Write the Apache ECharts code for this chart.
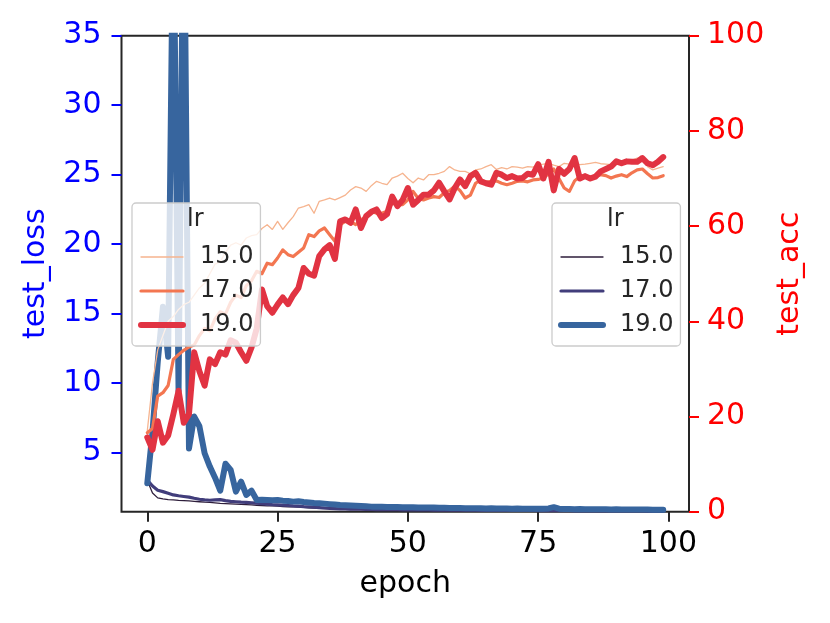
<!DOCTYPE html>
<html>
<head>
<meta charset="utf-8">
<script src="https://cdn.jsdelivr.net/npm/echarts@6/dist/echarts.min.js"></script>
<style>
html, body { margin: 0; padding: 0; background: #fff; }
#main { width: 830px; height: 623px; }
</style>
</head>
<body>
<div id="main"></div>
<script>
// epochs 0..99
var epochs = [];
for (var i = 0; i < 100; i++) epochs.push(i);

var lrNames = ['15.0', '17.0', '19.0'];
var xTicks = [0, 25, 50, 75, 100];
var lossTicks = [5, 10, 15, 20, 25, 30, 35];

// test_loss per lr
var loss15 = [3.0, 2.1, 1.75, 1.68, 1.63, 1.6, 1.57, 1.55, 1.53, 1.5,
    1.47, 1.44, 1.42, 1.39, 1.36, 1.34, 1.32, 1.3, 1.28, 1.26,
    1.24, 1.22, 1.2, 1.18, 1.17, 1.15, 1.13, 1.11, 1.1, 1.08,
    1.06, 1.04, 1.02, 1.0, 0.98, 0.97, 0.95, 0.93, 0.92, 0.91,
    0.9, 0.9, 0.89, 0.88, 0.88, 0.87, 0.87, 0.86, 0.86, 0.85,
    0.85, 0.85, 0.84, 0.84, 0.84, 0.83, 0.83, 0.83, 0.83, 0.82,
    0.82, 0.82, 0.82, 0.81, 0.81, 0.81, 0.81, 0.8, 0.8, 0.8,
    0.8, 0.8, 0.79, 0.79, 0.79, 0.79, 0.79, 0.79, 0.79, 0.78,
    0.78, 0.78, 0.78, 0.78, 0.78, 0.78, 0.78, 0.77, 0.77, 0.77,
    0.77, 0.77, 0.77, 0.77, 0.77, 0.77, 0.76, 0.76, 0.76, 0.76];
var loss17 = [3.04, 2.6, 2.3, 2.2, 2.08, 1.96, 1.9, 1.85, 1.8, 1.72,
    1.65, 1.6, 1.58, 1.6, 1.62, 1.55, 1.5, 1.47, 1.44, 1.42,
    1.4, 1.37, 1.34, 1.3, 1.27, 1.25, 1.23, 1.2, 1.17, 1.15,
    1.12, 1.1, 1.08, 1.05, 1.02, 1.0, 0.98, 0.96, 0.95, 0.94,
    0.93, 0.93, 0.92, 0.92, 0.91, 0.91, 0.9, 0.9, 0.9, 0.89,
    0.89, 0.89, 0.88, 0.88, 0.88, 0.87, 0.87, 0.87, 0.87, 0.86,
    0.86, 0.86, 0.86, 0.86, 0.85, 0.85, 0.85, 0.85, 0.85, 0.84,
    0.84, 0.84, 0.84, 0.84, 0.84, 0.83, 0.83, 0.83, 0.83, 0.83,
    0.83, 0.83, 0.82, 0.82, 0.82, 0.82, 0.82, 0.82, 0.82, 0.81,
    0.81, 0.81, 0.81, 0.81, 0.81, 0.81, 0.8, 0.8, 0.8, 0.8];
var loss19 = [2.8, 6.5, 11.5, 15.5, 11.9, 45, 9.4, 48, 5.3, 7.6,
    6.9, 4.96, 4.0, 3.2, 2.27, 4.2, 3.76, 2.2, 2.92, 1.96,
    2.27, 1.6, 1.62, 1.6, 1.58, 1.6, 1.55, 1.52, 1.48, 1.5,
    1.45, 1.42, 1.38, 1.36, 1.33, 1.3, 1.27, 1.24, 1.22, 1.2,
    1.18, 1.16, 1.14, 1.12, 1.12, 1.11, 1.1, 1.1, 1.09, 1.08,
    1.08, 1.07, 1.06, 1.06, 1.05, 1.05, 1.04, 1.04, 1.03, 1.02,
    1.02, 1.01, 1.0, 1.01, 1.0, 0.99, 1.0, 0.99, 0.98, 0.98,
    0.97, 0.98, 0.97, 0.96, 0.96, 0.97, 0.96, 0.99, 1.08, 0.97,
    0.95, 0.95, 0.94, 0.95, 0.94, 0.93, 0.93, 0.94, 0.93, 0.92,
    0.93, 0.92, 0.92, 0.91, 0.92, 0.91, 0.91, 0.9, 0.9, 0.89];

// test_acc per lr
var acc15 = [17.0, 27.0, 34.0, 37.0, 40.0, 41.0, 42.5, 43.5, 44.0, 45.5,
    47.0, 48.0, 50.0, 52.0, 52.5, 54.5, 56.0, 56.5, 56.0, 57.5,
    58.0, 58.2, 59.5, 60.3, 59.3, 61.0, 59.3, 60.7, 62.0, 63.8,
    64.1, 64.5, 62.7, 65.2, 65.5, 65.9, 65.5, 66.0, 66.5, 67.6,
    68.3, 68.0, 67.3, 68.5, 69.4, 69.0, 68.7, 70.1, 70.5, 71.1,
    70.0, 69.1, 70.1, 69.7, 70.8, 70.8, 71.1, 71.5, 72.5, 71.8,
    71.5, 71.5, 71.0, 71.8, 72.0, 72.5, 72.9, 71.9, 72.3, 72.0,
    72.5, 72.4, 72.2, 72.5, 72.4, 72.9, 73.0, 73.2, 72.8, 72.5,
    73.2, 73.0, 73.2, 72.9, 73.0, 73.2, 73.4, 73.1, 73.0, 72.9,
    73.2, 73.3, 73.6, 73.8, 74.3, 74.2, 72.5, 71.8, 72.2, 72.5];
var acc17 = [16.6, 17.5, 24.3, 25.0, 26.5, 32.0, 33.0, 33.9, 34.6, 35.0,
    37.0, 38.5, 38.0, 40.5, 42.0, 41.5, 44.0, 45.5, 45.0, 47.5,
    48.5, 50.5, 50.0, 52.2, 51.9, 53.3, 55.0, 54.0, 53.6, 54.5,
    55.4, 58.2, 57.8, 59.0, 59.6, 58.2, 56.8, 60.3, 61.0, 61.0,
    60.3, 61.3, 62.0, 63.1, 62.7, 62.7, 63.1, 64.8, 64.5, 64.5,
    65.5, 67.3, 65.8, 65.5, 65.9, 66.2, 66.0, 67.0, 67.5, 68.4,
    67.5, 65.9, 66.5, 69.0, 69.7, 69.2, 69.4, 69.5, 69.0, 68.7,
    69.0, 69.4, 69.5, 69.3, 69.7, 69.8, 70.1, 71.0, 72.0, 70.0,
    68.0, 67.3, 69.5, 70.4, 70.6, 70.1, 70.4, 70.8, 70.6, 70.1,
    70.5, 70.8, 70.4, 71.2, 71.8, 72.0, 71.0, 70.1, 70.2, 70.6];
var acc19 = [15.6, 13.0, 19.0, 14.5, 16.0, 20.5, 25.4, 18.7, 20.5, 33.5,
    29.5, 26.5, 32.0, 31.0, 33.5, 33.0, 36.0, 35.5, 33.5, 31.7,
    34.5, 38.5, 46.7, 43.2, 41.8, 43.5, 45.0, 43.6, 45.5, 47.0,
    51.2, 50.0, 49.6, 53.7, 55.1, 56.0, 53.1, 61.0, 61.4, 60.7,
    63.5, 59.6, 62.1, 63.0, 63.5, 61.7, 62.5, 66.2, 64.2, 65.5,
    68.0, 64.5, 65.5, 66.6, 66.6, 67.5, 69.1, 67.3, 65.6, 68.0,
    69.8, 68.4, 70.5, 71.2, 69.4, 69.0, 68.7, 71.2, 70.8, 70.1,
    70.5, 70.0, 70.1, 71.0, 70.8, 73.0, 70.0, 73.5, 67.5, 72.0,
    71.0, 72.0, 74.3, 70.0, 70.5, 70.0, 70.4, 71.5, 72.0, 72.5,
    73.6, 73.2, 73.6, 73.5, 73.5, 74.3, 73.2, 72.8, 73.5, 74.5];

var lossColors = ['#2e1e3b', '#413d7b', '#37659e'];
var accColors = ['#f6b48f', '#f37651', '#e13342'];
var widths = [1.3, 3.2, 6];

function pairs(vals) {
    var out = [];
    for (var i = 0; i < vals.length; i++) out.push([epochs[i], vals[i]]);
    return out;
}

var FONT = 'DejaVu Sans';
var lossData = [loss15, loss17, loss19];
var accData = [acc15, acc17, acc19];
var series = [];
for (var k = 0; k < 3; k++) {
    series.push({
        name: 'loss ' + lrNames[k], type: 'line', yAxisIndex: 0,
        data: pairs(lossData[k]), symbol: 'none', animation: false,
        lineStyle: { color: lossColors[k], width: widths[k], join: 'round', cap: 'round' },
        itemStyle: { color: lossColors[k] }
    });
}
for (var k = 0; k < 3; k++) {
    series.push({
        name: 'acc ' + lrNames[k], type: 'line', yAxisIndex: 1,
        data: pairs(accData[k]), symbol: 'none', animation: false,
        lineStyle: { color: accColors[k], width: widths[k], join: 'round', cap: 'round' },
        itemStyle: { color: accColors[k] }
    });
}

function legendAt(left, prefix, colors) {
    var items = [];
    for (var k = 0; k < 3; k++) {
        items.push({
            name: prefix + lrNames[k],
            lineStyle: { color: colors[k], width: widths[k], cap: 'round' }
        });
    }
    return {
        orient: 'vertical', left: left, top: 203,
        data: items,
        formatter: function (n) { return n.split(' ')[1]; },
        itemWidth: 42, itemHeight: 14, itemGap: 10,
        padding: [42, 7, 9, 6],
        backgroundColor: 'rgba(255,255,255,0.8)',
        borderColor: '#cccccc', borderWidth: 1.3, borderRadius: 4,
        itemStyle: { opacity: 0 },
        textStyle: { fontFamily: FONT, fontSize: 24, lineHeight: 24, color: '#262626', padding: [0, 0, 0, 12] },
        selectedMode: false
    };
}

var chart = echarts.init(document.getElementById('main'));
chart.setOption({
    backgroundColor: '#ffffff',
    animation: false,
    grid: { left: 121.5, right: 141, top: 35.7, bottom: 111.3, show: true, borderColor: '#262626', borderWidth: 2, backgroundColor: '#ffffff' },
    xAxis: {
        type: 'value', min: -4.95, max: 103.95,
        name: 'epoch', nameLocation: 'middle', nameGap: 58,
        nameTextStyle: { fontFamily: FONT, fontSize: 30, color: '#000' },
        axisLine: { show: false, onZero: false },
        splitLine: { show: false },
        axisTick: { show: true, length: 10, customValues: xTicks, lineStyle: { color: '#262626', width: 2 } },
        axisLabel: { customValues: xTicks, fontFamily: FONT, fontSize: 30, color: '#000', margin: 18 }
    },
    yAxis: [{
        type: 'value', min: 0.755, max: 35, position: 'left',
        name: 'test_loss', nameLocation: 'middle', nameGap: 70,
        nameTextStyle: { fontFamily: FONT, fontSize: 30, color: '#0000ff' },
        axisLine: { show: false, onZero: false },
        splitLine: { show: false },
        axisTick: { show: true, length: 10, customValues: lossTicks, lineStyle: { color: '#0000ff', width: 2 } },
        axisLabel: { customValues: lossTicks, fontFamily: FONT, fontSize: 30, color: '#0000ff', margin: 20 }
    }, {
        type: 'value', min: 0, max: 100, interval: 20, position: 'right',
        name: 'test_acc', nameLocation: 'middle', nameGap: 84,
        nameTextStyle: { fontFamily: FONT, fontSize: 30, color: '#ff0000' },
        axisLine: { show: false, onZero: false },
        splitLine: { show: false },
        axisTick: { show: true, length: 10, lineStyle: { color: '#ff0000', width: 2 } },
        axisLabel: { fontFamily: FONT, fontSize: 30, color: '#ff0000', margin: 18 }
    }],
    legend: [
        legendAt(132, 'acc ', accColors),
        legendAt(552, 'loss ', lossColors)
    ],
    graphic: [
        { type: 'text', z: 100, left: 195 - 8, top: 208, style: { text: 'lr', fontFamily: FONT, fontSize: 24, fill: '#262626' } },
        { type: 'text', z: 100, left: 615 - 8, top: 208, style: { text: 'lr', fontFamily: FONT, fontSize: 24, fill: '#262626' } }
    ],
    series: series
});
</script>
</body>
</html>
